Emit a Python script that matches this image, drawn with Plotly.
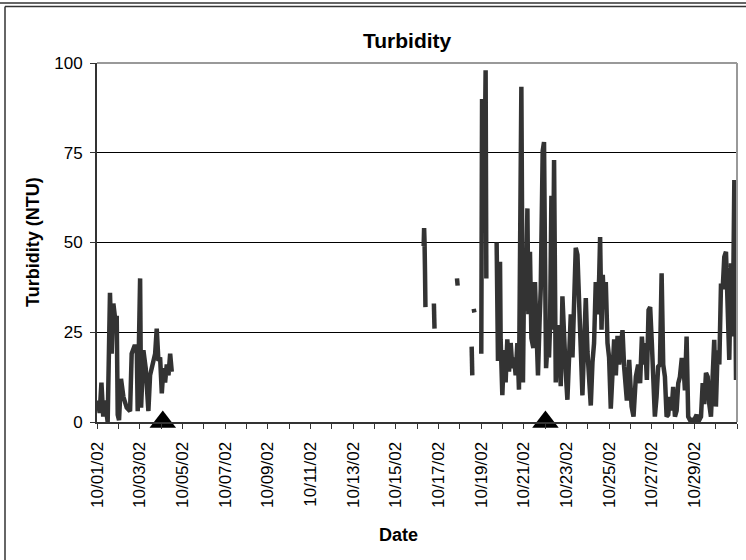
import pandas as pd
import plotly.graph_objects as go

# ---- data (hours since 10/01/02 00:00, turbidity NTU; None = gap) ----
hours = [
    1, 3, 5, 7, 9, 12, 14.6, 16.5, 18.4, 20.3, 22.2, 23.3, 24.8, 27, 29.7, 33.4, 37.2, 39, 42,
    44.7, 45.8, 48.5, 49.6, 52.2, 54.8, 57.8, 59.7, 62.3, 65.4, 67.2, 69.1, 71, 72.9, 74.7,
    76.6, 78.5, 80.4, 82.3, 84.1, 84.5,
    367.5, 368, 368.5, 369, 369.5, 369.8,
    379, 379.7, 380,
    405, 405.7, 406,
    421.5, 422.2, 422.5,
    423.8, 424.6, 424.8,
    432.3, 433.2, 434, 435, 436, 437.2, 438, 438.5,
    449.6, 451.1, 453.4, 454.1, 456, 457.9, 459.7, 461.6, 463.5, 465.4, 467.3, 469.1, 471,
    472.9, 474.7, 475.9, 477.4, 479.2, 480.4, 482.3, 484.2, 485.3, 487.1, 488.7, 490.9,
    492.7, 494.7, 496.1, 498, 499.2, 501.4, 502.9, 504, 505.2, 506.7, 508.5, 509.7, 511.2,
    512.7, 514.2, 516.1, 518, 519.8, 521.7, 523.6, 525.4, 527.3, 529.2, 531, 533, 534.9,
    536.7, 538.6, 540.5, 542.3, 544.2, 546.1, 547.9, 549.9, 551.8, 553.6, 555.5, 557.4,
    559.2, 561.1, 563, 564.9, 566, 567.6, 569, 570.5, 572.4, 574.3, 576.1, 578, 579.9,
    581.8, 583.7, 585.6, 587.4, 589.3, 591.2, 593, 596.1, 598.7, 601.4, 603.6, 606.2,
    608.8, 611, 613, 614.9, 616.7, 618.6, 620.5, 622.3, 624.2, 625.7, 627.6, 629.5, 631.3,
    633.3, 635.2, 637, 638.9, 640.8, 642.6, 644.5, 646.4, 648.2, 650.2, 652.1, 653.9,
    655.8, 657.7, 659.5, 661.4, 663.3, 665.1, 667, 668.9, 670.8, 672.7, 674.6, 676.4,
    679.5, 681.4, 683.2, 685.1, 687, 688.8, 690.7, 692.6, 694.4, 696.3, 698.2, 700.1, 702,
    703.9, 705.7, 707.6, 709.5, 711.3, 713.3, 715.2, 717, 718.9, 720,
]
turbidity = [
    6, 2.5, 11, 1.5, 6, 0, 36, 19, 33, 29, 29, 2, 0.5, 12, 7, 4, 3, 19, 21,
    21, 3, 40, 4, 20, 15, 3, 13, 16, 19, 26, 17, 18, 8, 15,
    11, 16, 13, 19, 14, None,
    49, 54, 50, 42, 32, None,
    33, 26, None,
    40, 38, None,
    21, 13, None,
    31.5, 30.5, None,
    19, 90, 60, 89, 70, 98, 40, None,
    50, 17, 44.6, 23, 7.5, 20, 11, 23, 14, 22, 15, 18, 13,
    22, 9, 34.5, 93.4, 11, 39, 31, 59.5, 30, 47.4, 23.3, 20.6,
    39, 20.6, 13, 29, 37, 75.5, 78, 46, 15, 21, 18, 27, 63,
    25.7, 73, 11, 27, 24, 10, 35, 20.6, 14, 6.2, 20.6, 30, 18,
    38, 48.5, 46.6, 33.4, 18, 7.4, 20.6, 34.5, 19.5, 13, 4.6, 16.6,
    22, 39, 30, 40, 51.5, 25.7, 41, 31.5, 39, 22, 18, 3.7, 13,
    23, 13, 24, 16, 23, 25.6, 15.4, 6, 17.3, 4.3, 1.5, 12.6,
    16, 10.8, 23.8, 16, 22, 11.7, 31.2, 32, 22, 11.7, 1.5, 7, 15.4,
    16, 41.4, 16, 12.6, 1.5, 2, 7, 3.2, 9.8, 1.5, 3.2, 10.8,
    12.6, 17.3, 17.3, 8.8, 23.8, 1.5, 0.6, 0.6, 0, 1.5, 2, 0,
    1.5, 10.8, 5, 13.7, 12.6, 5, 1.5, 12.6, 22.9, 4.3, 20, 16, 38.6,
    37, 46, 47.4, 27.5, 17.3, 44.2, 23.8, 67.4, 11.7, 29,
]
event_dates = ["2002-10-04 02:00", "2002-10-22 00:30"]
event_values = [0, 0]

start = pd.Timestamp("2002-10-01")
tick_dates = pd.date_range("2002-10-01", "2002-10-31", freq="D")
tick_labels = [d.strftime("%m/%d/%y") if i % 2 == 0 and i < 30 else "" for i, d in enumerate(tick_dates)]
y_ticks = [0, 25, 50, 75, 100]

times = [start + pd.Timedelta(hours=h) for h in hours]

FONT = "Arial, Liberation Sans, sans-serif"
W, H = 746, 560
L, R, T, B = 97, 9, 63, 138
PW, PH = W - L - R, H - T - B


def px_x(px):
    return (px - L) / PW


def px_y(py):
    return (H - B - py) / PH


fig = go.Figure()
fig.add_trace(go.Scatter(
    x=times, y=turbidity, mode="lines", connectgaps=False,
    line=dict(color="#333333", width=4.5), showlegend=False, hoverinfo="skip",
))
fig.add_trace(go.Scatter(
    x=pd.to_datetime(event_dates), y=event_values, mode="markers", cliponaxis=False,
    marker=dict(symbol="triangle-up", size=23, color="black"), showlegend=False,
    hoverinfo="skip",
))

fig.update_layout(
    width=W, height=H,
    margin=dict(l=L, r=R, t=T, b=B, autoexpand=False),
    paper_bgcolor="white", plot_bgcolor="white",
    font=dict(family=FONT, color="black"),
    xaxis=dict(
        type="date", range=[tick_dates[0], tick_dates[-1]],
        tickmode="array", tickvals=list(tick_dates), ticktext=tick_labels,
        tickangle=-90, tickfont=dict(size=17), ticks="outside", ticklen=5,
        tickcolor="#333333", showgrid=False, showline=True, linecolor="#333333",
        linewidth=2, zeroline=False, automargin=False, ticklabelstandoff=6,
    ),
    yaxis=dict(
        range=[0, 100], tickmode="array", tickvals=y_ticks,
        tickfont=dict(size=17), ticks="outside", ticklen=5, tickcolor="#333333",
        showgrid=True, gridcolor="black", gridwidth=1, showline=True,
        linecolor="#333333", linewidth=2, zeroline=False, automargin=False,
        ticklabelstandoff=4,
    ),
    shapes=[
        dict(type="line", xref="paper", yref="paper", x0=0, x1=1, y0=1, y1=1,
             line=dict(color="#999999", width=2), layer="above"),
        dict(type="line", xref="paper", yref="paper", x0=1, x1=1, y0=0, y1=1,
             line=dict(color="#999999", width=2), layer="above"),
        dict(type="line", xref="paper", yref="paper", x0=px_x(0), x1=px_x(W),
             y0=px_y(3), y1=px_y(3), line=dict(color="#333333", width=1.5)),
        dict(type="line", xref="paper", yref="paper", x0=px_x(5), x1=px_x(W),
             y0=px_y(6.5), y1=px_y(6.5), line=dict(color="#333333", width=1.5)),
        dict(type="line", xref="paper", yref="paper", x0=px_x(5), x1=px_x(5),
             y0=px_y(6.5), y1=px_y(H), line=dict(color="#333333", width=1.5)),
    ],
    annotations=[
        dict(text="<b>Turbidity</b>", xref="paper", yref="paper", x=px_x(407), y=px_y(40),
             showarrow=False, font=dict(size=21), xanchor="center", yanchor="middle"),
        dict(text="<b>Turbidity (NTU)</b>", xref="paper", yref="paper", x=px_x(33), y=px_y(242),
             showarrow=False, font=dict(size=18), textangle=-90, xanchor="center", yanchor="middle"),
        dict(text="<b>Date</b>", xref="paper", yref="paper", x=px_x(398), y=px_y(535),
             showarrow=False, font=dict(size=18), xanchor="center", yanchor="middle"),
    ],
)

fig.write_html(
    "out.html",
    config={"displayModeBar": False},
    post_script="document.body.style.margin='0';document.body.style.overflow='hidden';",
)
